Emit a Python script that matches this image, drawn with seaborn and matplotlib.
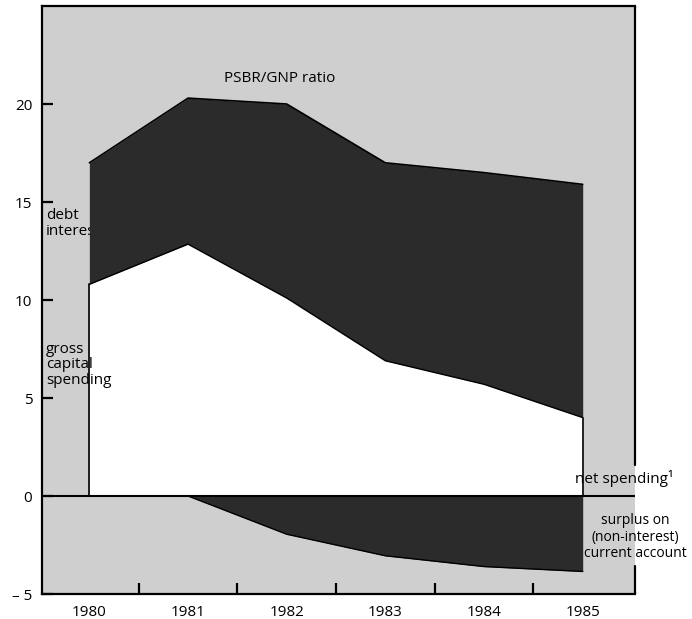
import numpy as np
import pandas as pd
import matplotlib.pyplot as plt
import seaborn as sns

# values (% of GNP)
years = [1980, 1981, 1982, 1983, 1984, 1985]
psbr_total = [17.0, 20.3, 20.0, 17.0, 16.5, 15.9]     # top of debt interest band
capital_spending = [10.8, 12.85, 10.1, 6.9, 5.7, 4.0]  # top of white area
surplus = [0.0, 0.0, -1.95, -3.05, -3.6, -3.85]        # current account surplus (below 0)

ytick_vals = [-5, 0, 5, 10, 15, 20]
ytick_labels = ['\u2013 5', '0', '5', '10', '15', '20']

df = pd.DataFrame({'year': years, 'total': psbr_total,
                   'capital': capital_spending, 'surplus': surplus})

sns.set_style('white')
plt.rcParams['font.family'] = ['Open Sans', 'DejaVu Sans']
plt.rcParams['text.color'] = 'black'
plt.rcParams['xtick.color'] = 'black'
plt.rcParams['ytick.color'] = 'black'

bg = '#cfcfcf'
dark = '#2b2b2b'
fs = 11

fig = plt.figure(figsize=(6.92, 6.19), dpi=100)
ax = fig.add_axes([42/692, 25/619, (635-42)/692, (594-6)/619])
ax.set_facecolor(bg)

# bands
ax.fill_between(df.year, df.capital, df.total, color=dark, lw=0, zorder=3)
ax.fill_between(df.year, 0, df.capital, color='white', lw=0, zorder=3)
ax.fill_between(df.year, df.surplus, 0, color=dark, lw=0, zorder=3)
sns.lineplot(data=df, x='year', y='total', color='black', lw=1.2, ax=ax, zorder=4)
sns.lineplot(data=df, x='year', y='capital', color='black', lw=1.0, ax=ax, zorder=4)
sns.lineplot(data=df, x='year', y='surplus', color='black', lw=1.0, ax=ax, zorder=4)

# edges of the white area
ax.plot([years[0], years[0]], [0, capital_spending[0]], color='black', lw=1.2, zorder=4)
ax.plot([years[-1], years[-1]], [0, capital_spending[-1]], color='black', lw=1.2, zorder=4)
ax.axhline(0, color='black', lw=1.5, zorder=5)

ax.set_xlim(1979.52, 1985.53)
ax.set_ylim(-5, 25)

ax.set_xticks(years)
ax.set_xticklabels([str(y) for y in years])
ax.set_xticks([1980.5, 1981.5, 1982.5, 1983.5, 1984.5], minor=True)
ax.tick_params(axis='x', which='major', length=0, pad=8, labelsize=fs)
ax.tick_params(axis='x', which='minor', direction='in', length=8, width=1.6,
               color='black', bottom=True)
ax.set_yticks(ytick_vals)
ax.set_yticklabels(ytick_labels)
ax.tick_params(axis='y', direction='in', length=8, width=1.6, color='black',
               left=True, pad=7, labelsize=fs)
ax.set_xlabel('')
ax.set_ylabel('')

for s in ['left', 'top', 'bottom']:
    ax.spines[s].set_color('black')
    ax.spines[s].set_linewidth(1.6)
ax.spines['right'].set_visible(False)
# right frame is broken where the labels sit
ax.axvline(1985.53, ymin=0.22, ymax=1, color='black', lw=1.6, clip_on=False, zorder=6)
ax.axvline(1985.53, ymin=0, ymax=0.047, color='black', lw=1.6, clip_on=False, zorder=6)

# annotations
ax.text(1981.93, 21.3, 'PSBR/GNP ratio', ha='center', va='center', fontsize=fs)
ax.text(1979.56, 13.9, 'debt\ninterest', ha='left', va='center', fontsize=fs,
        linespacing=1.05, zorder=2)
ax.text(1979.56, 6.7, 'gross\ncapital\nspending', ha='left', va='center', fontsize=fs,
        linespacing=1.05, zorder=6)
ax.text(1984.92, 0.87, 'net spending\u00b9', ha='left', va='center', fontsize=fs,
        zorder=6, clip_on=False)
ax.text(1985.53, -2.1, 'surplus on\n(non-interest)\ncurrent account', ha='center',
        va='center', fontsize=10, linespacing=1.15, zorder=6, clip_on=False)

fig.savefig('out.png', dpi=100)
